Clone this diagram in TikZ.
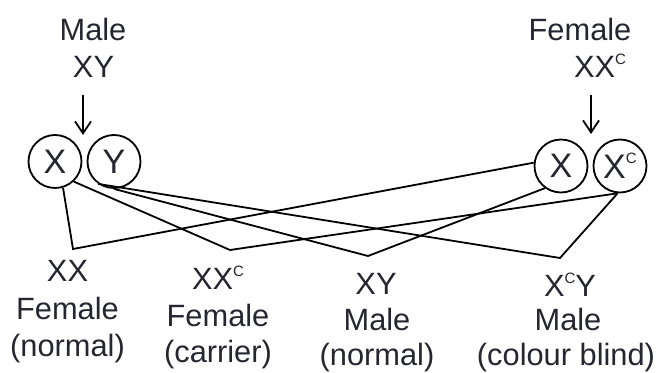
\documentclass[tikz,border=0pt]{standalone}
\usepackage{fontspec}
\setmainfont{Liberation Sans}
\usetikzlibrary{arrows.meta}
\definecolor{inkgrey}{RGB}{38,38,48}
\newcommand{\supC}{\raisebox{0.44em}{\fontsize{7.5}{7.5}\selectfont C}}

\begin{document}
\begin{tikzpicture}[x=0.5pt,y=-0.5pt,
  lbl/.style={inner sep=0pt,anchor=base,text=inkgrey,font=\fontsize{15.4}{18.5}\selectfont},
  gamete/.style={circle,draw,line width=0.9pt,minimum size=26.5pt,inner sep=0pt,text=inkgrey,font=\fontsize{17}{17}\selectfont},
  cross/.style={line width=0.9pt,line join=miter},
  down/.style={line width=0.9pt,-{Straight Barb[length=6pt,width=8pt]}}]
\useasboundingbox (0,0) rectangle (659,373);

% ========= parents =========
\node[lbl] (mtitle) at (93,41) {Male};
\node[lbl] (mgeno) at (93.5,78) {XY};
\node[lbl] (ftitle) at (580,41) {Female};
\node[lbl] (fgeno) at (600,78) {XX\supC};

% ========= gametes =========
\node[gamete] (xm) at (55,161.5) {X};
\node[gamete] (ym) at (114,161.5) {Y};
\node[gamete] (xf) at (561,166) {X};
\node[gamete] (xcf) at (620,166) {X\supC};

\coordinate (mtail) at (83,95);
\coordinate (mhead) at (83,135);
\coordinate (ftail) at (591,95);
\coordinate (fhead) at (591,134);
\draw[down] (mtail) -- (mhead);
\draw[down] (ftail) -- (fhead);

% ========= crossing lines =========
\coordinate (vxx) at (73,249);
\coordinate (vxxc) at (230,250);
\coordinate (vxy) at (368,256);
\coordinate (vxcy) at (560,258);
\draw[cross] (xm.-73) -- (vxx) -- (xf.173);
\draw[cross] (xm.-47) -- (vxxc) -- (xcf.-95);
\draw[cross] (ym.-90) -- (vxy) -- (xf.-126);
\draw[cross] (ym.-125) -- (vxcy) -- (xcf.-95);

% ========= offspring =========
\node[lbl] (xxg) at (67.5,282) {XX};
\node[lbl] (xxs) at (67.5,320) {Female};
\node[lbl] (xxp) at (67.5,357) {(normal)};
\node[lbl] (xxcg) at (218,290) {XX\supC};
\node[lbl] (xxcs) at (218,327) {Female};
\node[lbl] (xxcp) at (218,363) {(carrier)};
\node[lbl] (xyg) at (376,295) {XY};
\node[lbl] (xys) at (377,331) {Male};
\node[lbl] (xyp) at (377,366) {(normal)};
\node[lbl] (xcyg) at (570,297) {X\supC Y};
\node[lbl] (xcys) at (568,331) {Male};
\node[lbl] (xcyp) at (566,366) {(colour blind)};
\end{tikzpicture}
\end{document}
